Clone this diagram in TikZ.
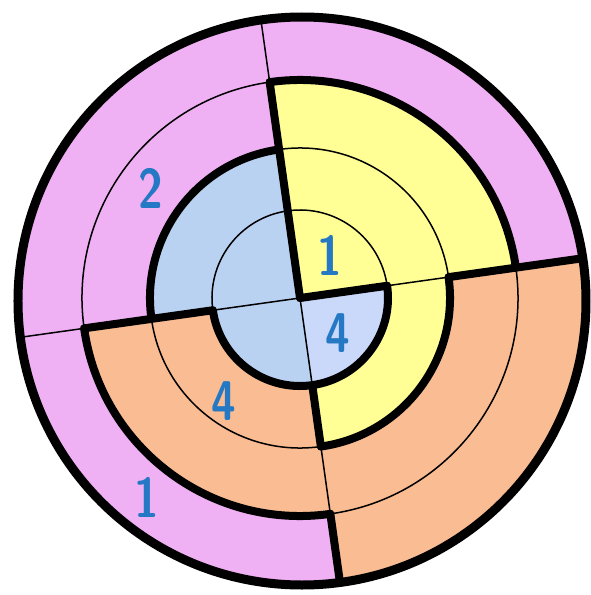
\documentclass[tikz,border=0pt]{standalone}
\usepackage{tikz}
\definecolor{pinkring}{RGB}{240,176,244}
\definecolor{yellowring}{RGB}{255,255,150}
\definecolor{orangering}{RGB}{250,188,146}
\definecolor{bluering}{RGB}{186,210,242}
\definecolor{paleblue}{RGB}{202,216,250}
\definecolor{numblue}{RGB}{36,120,196}
% filled piece of an annulus: colour, from angle, to angle, inner r, outer r
\newcommand{\ringpart}[5]{%
  \fill[#1] (#2:#4) arc[start angle=#2,end angle=#3,radius=#4]
    -- (#3:#5) arc[start angle=#3,end angle=#2,radius=#5] -- cycle;}

\begin{document}
\begin{tikzpicture}[x=1pt,y=1pt,
    thinline/.style={line width=1.5pt},
    thickline/.style={line width=8pt,line cap=round},
    num/.style={text=numblue,font=\sffamily\bfseries\fontsize{56}{56}\selectfont,xscale=0.8}]
  \useasboundingbox (-300,-297) rectangle (290,298);
  % radii of the rings
  \def\ra{88}\def\rb{150}\def\rc{218}\def\rd{290}
  \begin{scope}
    \clip (2,-3) circle (284);
    % upper right
    \ringpart{yellowring}{8}{98}{0.1}{\rc}
    \ringpart{pinkring}{8}{98}{\rc}{\rd}
    % upper left
    \ringpart{bluering}{98}{188}{0.1}{\rb}
    \ringpart{pinkring}{98}{188}{\rb}{\rd}
    % lower left
    \ringpart{bluering}{188}{278}{0.1}{\ra}
    \ringpart{orangering}{188}{278}{\ra}{\rc}
    \ringpart{pinkring}{188}{278}{\rc}{\rd}
    % lower right
    \ringpart{paleblue}{278}{368}{0.1}{\ra}
    \ringpart{yellowring}{278}{368}{\ra}{\rb}
    \ringpart{orangering}{278}{368}{\rb}{\rd}
  \end{scope}
  % thin arcs
  \draw[thinline] (8:\ra) arc[start angle=8,end angle=188,radius=\ra];
  \draw[thinline] (8:\rb) arc[start angle=8,end angle=98,radius=\rb];
  \draw[thinline] (188:\rb) arc[start angle=188,end angle=278,radius=\rb];
  \draw[thinline] (98:\rc) arc[start angle=98,end angle=188,radius=\rc];
  \draw[thinline] (278:\rc) arc[start angle=278,end angle=368,radius=\rc];
  % thin spokes
  \draw[thinline] (8:\ra) -- (8:\rb);
  \draw[thinline] (98:\rc) -- (98:283);
  \draw[thinline] (0,0) -- (188:\ra) (188:\rc) -- (188:283);
  \draw[thinline] (0,0) -- (278:\ra) (278:\rb) -- (278:\rc);
  % thick arcs
  \draw[thickline] (188:\ra) arc[start angle=188,end angle=368,radius=\ra];
  \draw[thickline] (98:\rb) arc[start angle=98,end angle=188,radius=\rb];
  \draw[thickline] (278:\rb) arc[start angle=278,end angle=368,radius=\rb];
  \draw[thickline] (8:\rc) arc[start angle=8,end angle=98,radius=\rc];
  \draw[thickline] (188:\rc) arc[start angle=188,end angle=278,radius=\rc];
  % thick spokes
  \draw[thickline] (0,0) -- (8:\ra) (8:\rb) -- (8:283);
  \draw[thickline] (0,0) -- (98:\rc);
  \draw[thickline] (188:\ra) -- (188:\rc);
  \draw[thickline] (278:\ra) -- (278:\rb) (278:\rc) -- (278:283);
  % outer rim
  \draw[line width=9pt] (2,-3) circle (284);
  % numbers
  \node[num] (two) at (-149,110) {2};
  \node[num] (oneup) at (30,43) {1};
  \node[num] (fourin) at (38,-35) {4};
  \node[num] (fourout) at (-76,-103) {4};
  \node[num] (onerim) at (-153,-199) {1};
\end{tikzpicture}
\end{document}
